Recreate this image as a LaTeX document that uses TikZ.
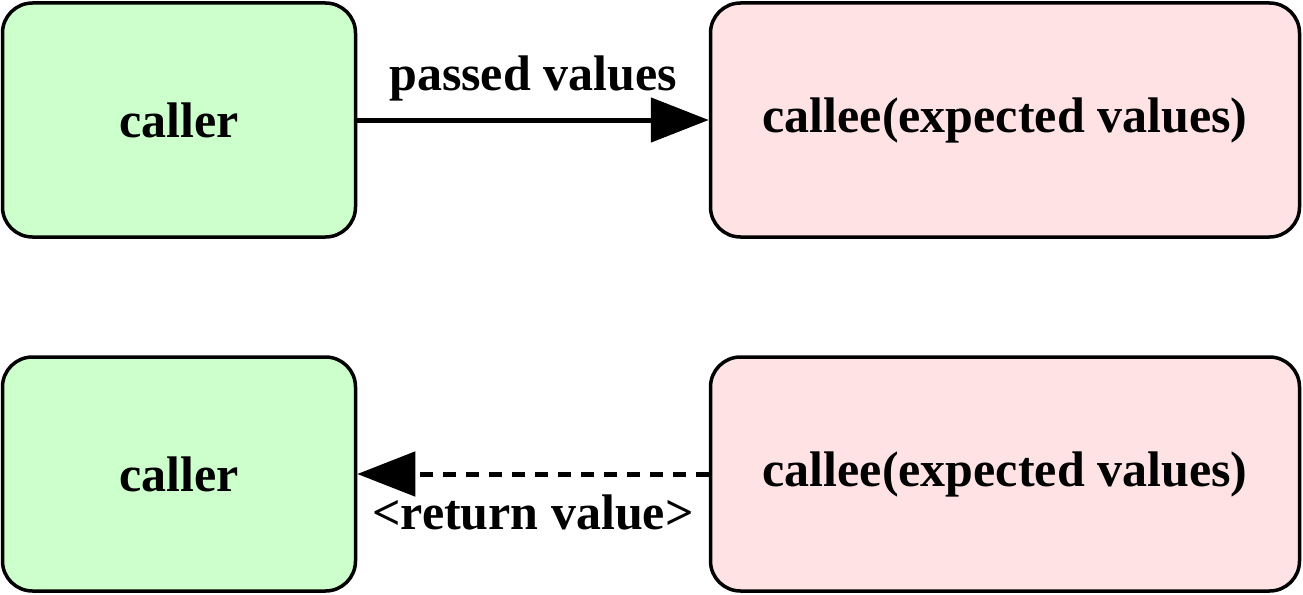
\documentclass[tikz,border=0pt]{standalone}
\usepackage{fontspec}
\setmainfont{Liberation Serif}
\usetikzlibrary{arrows.meta}
\definecolor{callergreen}{HTML}{CCFFCC}
\definecolor{calleepink}{HTML}{FFE2E4}
\begin{document}
\begin{tikzpicture}[x=1pt,y=-1pt,
  box/.style={draw=black, line width=3.5pt, rounded corners=30pt, inner sep=0pt,
    font=\fontsize{50}{56}\selectfont\bfseries},
  callerbox/.style={box, fill=callergreen, minimum width=353pt, minimum height=234pt},
  calleebox/.style={box, fill=calleepink, minimum width=589pt, minimum height=234pt},
  conn/.style={line width=5pt, -{Triangle[length=58pt,width=44pt]}},
  lbl/.style={font=\fontsize{50}{56}\selectfont\bfseries, inner sep=2pt}]
\useasboundingbox (0,0) rectangle (1303,594);
\node[callerbox] (c1) at (179,120) {caller};
\node[calleebox] (e1) at (1005,120) {callee(expected values)};
\node[callerbox] (c2) at (179,474) {caller};
\node[calleebox] (e2) at (1005,474) {callee(expected values)};
\draw[conn] (c1) -- node[lbl, above=14pt] {passed values} (e1);
\draw[conn, dash pattern=on 13pt off 10pt] (e2) -- node[lbl, below=16pt] {<return value>} (c2);
\end{tikzpicture}
\end{document}
